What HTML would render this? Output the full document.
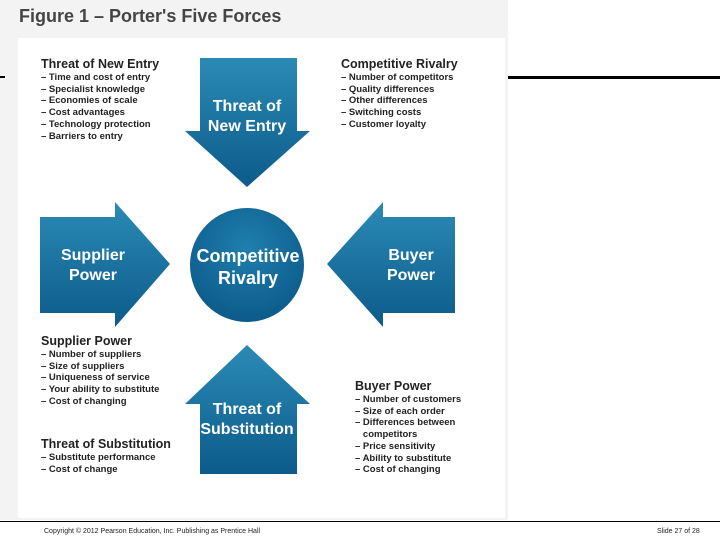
<!DOCTYPE html>
<html><head><style>
body{margin:0;width:720px;height:540px;background:#fff;position:relative;overflow:hidden;font-family:"Liberation Sans",sans-serif}
.bg{position:absolute;left:0;top:0;width:508px;height:520px;background:#f3f3f3}
.panel{position:absolute;left:18px;top:38px;width:487px;height:480px;background:#fff}
h1{position:absolute;left:19px;top:6px;margin:0;font-size:18px;font-weight:bold;color:#444}
.t{position:absolute;font-size:9.5px;line-height:11.7px;color:#222;font-weight:bold}
.t b{display:block;font-size:12.5px;line-height:15px;color:#222}
.foot{position:absolute;top:528px;font-size:7px;color:#222}
</style></head><body>
<div class="bg"></div><div class="panel"></div>
<h1>Figure 1 – Porter's Five Forces</h1>
<div style="position:absolute;left:0;top:76px;width:5px;height:2px;background:#000"></div>
<div style="position:absolute;left:508px;top:76px;width:212px;height:3px;background:#000"></div>
<div style="position:absolute;left:0;top:521px;width:720px;height:1px;background:#000"></div>
<svg style="position:absolute;left:0;top:0" width="720" height="540">
<defs><linearGradient id="g" x1="0" y1="0" x2="0" y2="1"><stop offset="0" stop-color="#2b8ab5"/><stop offset="1" stop-color="#0c5b8a"/></linearGradient>
<radialGradient id="c" cx=".5" cy=".35" r=".7"><stop offset="0" stop-color="#1f7fae"/><stop offset="1" stop-color="#0b5887"/></radialGradient></defs>
<polygon fill="url(#g)" points="200,58 297,58 297,131 310,131 247,187 185,131 200,131"/>
<polygon fill="url(#g)" points="40,217 115,217 115,202 170,264 115,327 115,313 40,313"/>
<polygon fill="url(#g)" points="455,217 383,217 383,202 327,264 383,327 383,313 455,313"/>
<polygon fill="url(#g)" points="247,345 310,404 297,404 297,474 200,474 200,404 185,404"/>
<circle cx="247" cy="265" r="57" fill="url(#c)"/>
<g fill="#fff" font-family="Liberation Sans,sans-serif" font-weight="bold" text-anchor="middle" font-size="16">
<text x="247" y="111">Threat of</text><text x="247" y="131">New Entry</text>
<text x="93" y="260">Supplier</text><text x="93" y="280">Power</text>
<text x="411" y="260">Buyer</text><text x="411" y="280">Power</text>
<text x="247" y="414">Threat of</text><text x="247" y="434">Substitution</text>
<text x="248" y="262" font-size="18">Competitive</text><text x="248" y="284" font-size="18">Rivalry</text>
</g></svg>
<div class="t" style="left:41px;top:57px"><b>Threat of New Entry</b>– Time and cost of entry<br>– Specialist knowledge<br>– Economies of scale<br>– Cost advantages<br>– Technology protection<br>– Barriers to entry</div>
<div class="t" style="left:341px;top:57px"><b>Competitive Rivalry</b>– Number of competitors<br>– Quality differences<br>– Other differences<br>– Switching costs<br>– Customer loyalty</div>
<div class="t" style="left:41px;top:334px"><b>Supplier Power</b>– Number of suppliers<br>– Size of suppliers<br>– Uniqueness of service<br>– Your ability to substitute<br>– Cost of changing</div>
<div class="t" style="left:41px;top:437px"><b>Threat of Substitution</b>– Substitute performance<br>– Cost of change</div>
<div class="t" style="left:355px;top:379px"><b>Buyer Power</b>– Number of customers<br>– Size of each order<br>– Differences between<br>&nbsp;&nbsp;&nbsp;competitors<br>– Price sensitivity<br>– Ability to substitute<br>– Cost of changing</div>
<div class="foot" style="left:44px">Copyright © 2012 Pearson Education, Inc. Publishing as Prentice Hall</div>
<div class="foot" style="left:657px">Slide 27 of 28</div>
</body></html>
